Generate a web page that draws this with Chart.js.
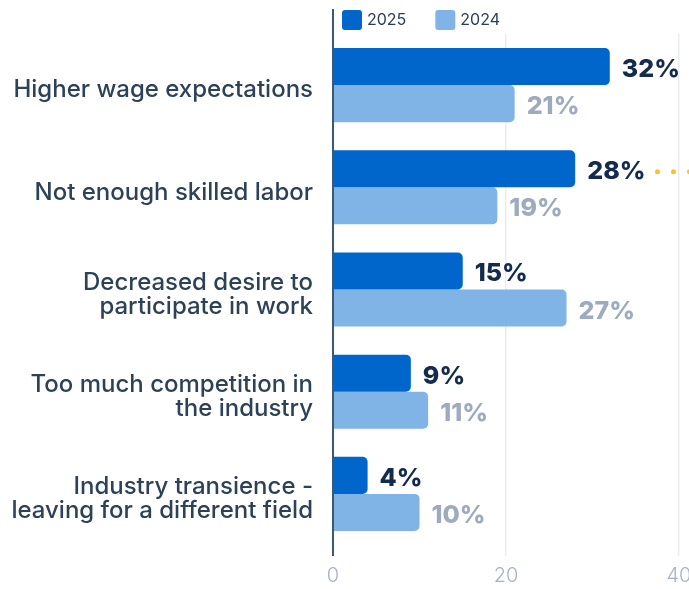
<!DOCTYPE html>
<html>
<head>
<meta charset="utf-8">
<script src="https://cdn.jsdelivr.net/npm/chart.js@4.4.1/dist/chart.umd.min.js"></script>
<style>
  html, body { margin: 0; padding: 0; background: #fff; overflow: hidden; }
</style>
</head>
<body>
<canvas id="chart" width="689" height="589"></canvas>
<script>
const reasons = [
  'Higher wage expectations',
  'Not enough skilled labor',
  ['Decreased desire to', 'participate in work'],
  ['Too much competition in', 'the industry'],
  ['Industry transience -', 'leaving for a different field']
];
const share2025 = [32, 28, 15, 9, 4];
const share2024 = [21, 19, 27, 11, 10];
const xTicks = [0, 20, 40];
const highlighted = 1; // row that gets the dotted leader

const FONT = 'Inter, "Noto Sans", sans-serif';

// percent labels at the end of each bar
const valueLabels = {
  id: 'valueLabels',
  afterDatasetsDraw(chart) {
    const ctx = chart.ctx;
    ctx.save();
    ctx.textBaseline = 'middle';
    ctx.textAlign = 'left';
    chart.data.datasets.forEach((ds, di) => {
      chart.getDatasetMeta(di).data.forEach((bar, i) => {
        const text = ds.data[i] + '%';
        const x = bar.x + 12;
        ctx.font = `800 25px ${FONT}`;
        ctx.fillStyle = ds.labelColor;
        ctx.fillText(text, x, bar.y + 3);
        if (di === 0 && i === highlighted) {
          const w = ctx.measureText(text).width;
          ctx.fillStyle = '#f7c325';
          for (let dx = x + w + 12; dx < chart.width + 5; dx += 16) {
            ctx.beginPath();
            ctx.arc(dx, bar.y + 3, 2.5, 0, Math.PI * 2);
            ctx.fill();
          }
        }
      });
    });
    ctx.restore();
  }
};

// axis line at zero and the legend beside it
const frame = {
  id: 'frame',
  afterDraw(chart) {
    const { ctx, chartArea } = chart;
    const x0 = chart.scales.x.getPixelForValue(0);
    ctx.save();
    ctx.strokeStyle = '#3a5a73';
    ctx.lineWidth = 2;
    ctx.beginPath();
    ctx.moveTo(x0, 9);
    ctx.lineTo(x0, chartArea.bottom + 11);
    ctx.stroke();

    let lx = x0 + 9;
    ctx.font = `400 16px ${FONT}`;
    ctx.textBaseline = 'middle';
    ctx.textAlign = 'left';
    chart.data.datasets.forEach(ds => {
      ctx.fillStyle = ds.backgroundColor;
      ctx.beginPath();
      ctx.roundRect(lx, 10, 20, 20, 3);
      ctx.fill();
      ctx.fillStyle = '#2b3d52';
      ctx.fillText(ds.label, lx + 25, 20);
      lx += 25 + ctx.measureText(ds.label).width + 29;
    });
    ctx.restore();
  }
};

new Chart(document.getElementById('chart'), {
  type: 'bar',
  data: {
    labels: reasons,
    datasets: [
      {
        label: '2025',
        data: share2025,
        backgroundColor: '#0066cc',
        labelColor: '#142b4d',
        borderRadius: 5,
        categoryPercentage: 0.725,
        barPercentage: 1
      },
      {
        label: '2024',
        data: share2024,
        backgroundColor: '#80b3e6',
        labelColor: '#9eabbf',
        borderRadius: 5,
        categoryPercentage: 0.725,
        barPercentage: 1
      }
    ]
  },
  options: {
    indexAxis: 'y',
    responsive: false,
    animation: false,
    layout: { padding: { top: 34, right: 10, bottom: 0, left: 0 } },
    plugins: {
      legend: { display: false },
      tooltip: { enabled: false }
    },
    scales: {
      x: {
        min: 0,
        max: 40,
        afterBuildTicks: s => { s.ticks = xTicks.map(v => ({ value: v })); },
        afterFit: s => { s.paddingRight = 0; s.paddingLeft = 0; s.height = 44; },
        grid: {
          color: c => c.tick && c.tick.value === 0 ? 'rgba(0,0,0,0)' : '#e9edf2',
          lineWidth: 1.5,
          tickLength: 11
        },
        border: { display: false },
        ticks: {
          color: '#a5b2c5',
          font: { family: FONT, size: 20, weight: 300 },
          padding: 8
        }
      },
      y: {
        afterFit: s => { s.width = 333; s.paddingTop = 0; s.paddingBottom = 0; },
        grid: { display: false, drawTicks: false },
        border: { display: false },
        ticks: {
          color: '#2d4157',
          font: { family: FONT, size: 24, weight: 500, lineHeight: 1 },
          padding: 20,
          labelOffset: 5
        }
      }
    }
  },
  plugins: [valueLabels, frame]
});
</script>
</body>
</html>
